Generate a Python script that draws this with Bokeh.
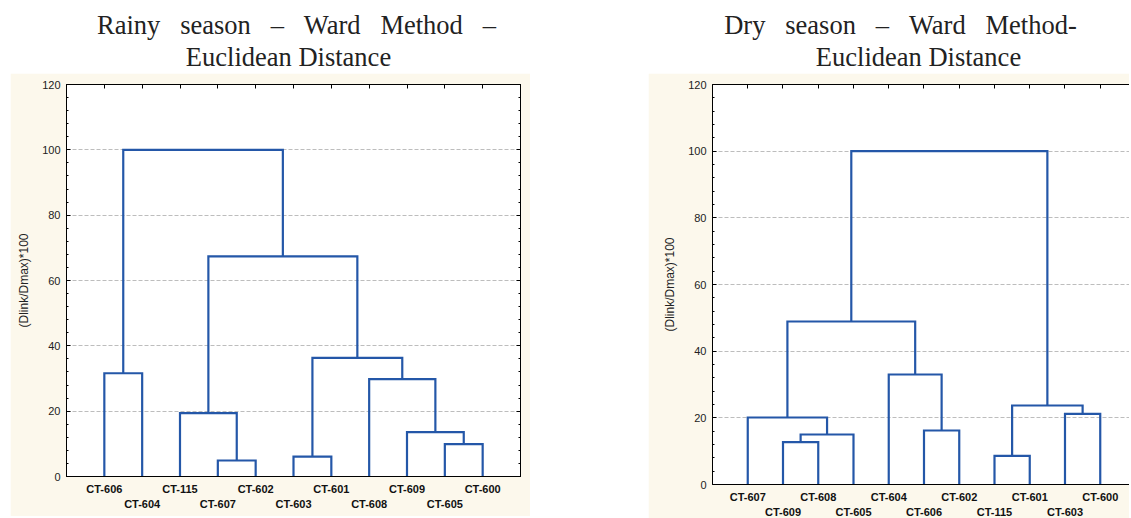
from bokeh.plotting import figure
from bokeh.models import FixedTicker, LinearAxis, Range1d, Spacer, Grid
from bokeh.layouts import column, row
from bokeh.core.properties import value
from bokeh.embed import file_html
from bokeh.resources import INLINE

# ---------------- data ----------------
rainy_leaves = ["CT-606", "CT-604", "CT-115", "CT-607", "CT-602", "CT-603",
                "CT-601", "CT-608", "CT-609", "CT-605", "CT-600"]
# linkage: node a + node b -> new node (11, 12, ...) at height
rainy_merge_a = [3, 5, 9, 8, 2, 7, 0, 12, 15, 17]
rainy_merge_b = [4, 6, 10, 13, 11, 14, 1, 16, 18, 19]
rainy_heights = [4.9, 6.1, 9.9, 13.6, 19.4, 29.8, 31.6, 36.3, 67.4, 100.0]

dry_leaves = ["CT-607", "CT-609", "CT-608", "CT-605", "CT-604", "CT-606",
              "CT-602", "CT-115", "CT-601", "CT-603", "CT-600"]
dry_merge_a = [7, 1, 12, 5, 0, 9, 11, 4, 15, 19]
dry_merge_b = [8, 2, 3, 6, 13, 10, 16, 14, 18, 17]
dry_heights = [8.6, 12.7, 15.0, 16.2, 20.1, 21.2, 23.7, 33.0, 48.9, 100.0]

y_ticks = [0, 20, 40, 60, 80, 100, 120]
y_label = "(Dlink/Dmax)*100"

G3 = " \u00a0\u00a0"
title_rainy = [G3.join(["Rainy", "season", "–", "Ward", "Method", "–"]), "Euclidean Distance"]
title_dry = [G3.join(["Dry", "season", "–", "Ward", "Method-"]), "Euclidean Distance"]

# ---------------- style ----------------
BEIGE = "#FCF8EC"
BLUE = "#2457A8"
GRID = "#BDBDBD"
SANS = "Liberation Sans"
SERIF = "Liberation Serif"


def dendro_fig(leaves, ma, mb, hts, frame_w, frame_h, x_end,
               b_left, b_right, b_top, b_bottom, with_right):
    n = len(leaves)
    xpos = [float(i) for i in range(n)]
    hpos = [0.0] * n
    xs, ys = [], []
    for a, b, h in zip(ma, mb, hts):
        xs.append([xpos[a], xpos[a], xpos[b], xpos[b]])
        ys.append([hpos[a], h, h, hpos[b]])
        xpos.append((xpos[a] + xpos[b]) / 2.0)
        hpos.append(h)

    p = figure(frame_width=frame_w, frame_height=frame_h,
               x_range=Range1d(-1, x_end), y_range=Range1d(0, 120),
               x_axis_type=None, y_axis_type=None,
               output_backend="svg", toolbar_location=None,
               min_border_left=b_left, min_border_right=b_right,
               min_border_top=b_top, min_border_bottom=b_bottom)
    p.background_fill_color = "white"
    p.border_fill_color = BEIGE
    p.outline_line_color = "black" if with_right else None

    p.add_layout(Grid(dimension=1, ticker=FixedTicker(ticks=y_ticks[1:-1]),
                      grid_line_color=GRID, grid_line_dash="4 2",
                      grid_line_width=1), "center")

    p.multi_line(xs, ys, line_color=BLUE, line_width=2.2, line_join="miter")

    minor = list(range(0, 121, 4))

    def y_axis(labels):
        ax = LinearAxis(ticker=FixedTicker(ticks=y_ticks, minor_ticks=minor))
        ax.major_tick_in = 4
        ax.major_tick_out = 0
        ax.minor_tick_in = 2
        ax.minor_tick_out = 0
        ax.axis_line_color = "black"
        ax.major_tick_line_color = "black"
        ax.minor_tick_line_color = "black"
        if labels:
            ax.axis_label = y_label
            ax.axis_label_standoff = 8
            ax.axis_label_text_font = SANS
            ax.axis_label_text_font_size = "12px"
            ax.axis_label_text_font_style = "normal"
            ax.axis_label_text_color = "#222222"
            ax.major_label_standoff = 6
            ax.major_label_text_font = SANS
            ax.major_label_text_font_size = "11px"
            ax.major_label_text_color = "#222222"
        else:
            ax.major_label_overrides = {t: "" for t in y_ticks}
            ax.major_label_text_font_size = "1px"
            ax.major_label_standoff = 0
        return ax

    p.add_layout(y_axis(True), "left")
    if with_right:
        p.add_layout(y_axis(False), "right")

    top = LinearAxis(ticker=FixedTicker(ticks=list(range(n)), minor_ticks=[]))
    top.major_tick_in = 4
    top.major_tick_out = 0
    top.major_label_overrides = {i: "" for i in range(n)}
    top.major_label_text_font_size = "1px"
    top.major_label_standoff = 0
    p.add_layout(top, "above")

    def x_axis(idx, standoff, line):
        ax = LinearAxis(ticker=FixedTicker(ticks=idx, minor_ticks=[]))
        ax.major_label_overrides = {i: leaves[i] for i in idx}
        ax.major_tick_in = 0
        ax.major_tick_out = 0
        ax.major_tick_line_color = None
        ax.axis_line_color = "black" if line else None
        ax.major_label_standoff = standoff
        ax.major_label_text_font = SANS
        ax.major_label_text_font_size = "11px"
        ax.major_label_text_font_style = "bold"
        ax.major_label_text_color = "#111111"
        return ax

    p.add_layout(x_axis(list(range(0, n, 2)), 6, True), "below")
    p.add_layout(x_axis(list(range(1, n, 2)), 0, False), "below")
    return p


rainy = dendro_fig(rainy_leaves, rainy_merge_a, rainy_merge_b, rainy_heights,
                   454, 392, 11.0, 56, 10, 11, 40, True)
dry = dendro_fig(dry_leaves, dry_merge_a, dry_merge_b, dry_heights,
                 417, 400, 10.83, 64, 0, 11, 32, False)

# ---------------- titles ----------------
W = 1129
tf = figure(width=W, height=73, x_range=Range1d(0, W), y_range=Range1d(0, 73),
            x_axis_type=None, y_axis_type=None, output_backend="svg",
            toolbar_location=None, min_border=0)
tf.outline_line_color = None
tf.background_fill_color = "white"
tf.border_fill_color = "white"
tf.text(x=[296, 288, 900, 918], y=[49, 17, 49, 17],
        text=[title_rainy[0], title_rainy[1], title_dry[0], title_dry[1]],
        text_font=value(SERIF), text_font_size=value("26.5px"),
        text_align="center", text_baseline="alphabetic", text_color="#222222")

layout = column(tf, row(Spacer(width=10, height=443), rainy,
                        Spacer(width=118, height=443), dry))

open("out.html", "w").write(file_html(layout, INLINE))
